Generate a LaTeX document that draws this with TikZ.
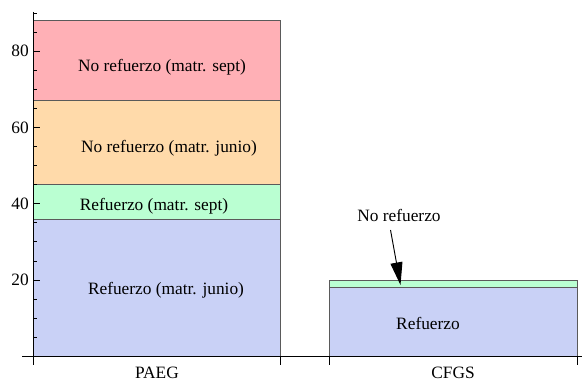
\documentclass[tikz,border=0pt]{standalone}
\usepackage{fontspec}
\setmainfont{Liberation Serif}
\usetikzlibrary{arrows.meta}
\definecolor{cpink}{RGB}{255,176,182}
\definecolor{corange}{RGB}{255,218,170}
\definecolor{cgreen}{RGB}{186,255,210}
\definecolor{cblue}{RGB}{201,209,246}
\definecolor{cedge}{RGB}{90,90,90}
\tikzset{
  seg/.style={draw=cedge, line width=0.7pt},
  axisline/.style={draw=black, line width=0.75pt},
  lbl/.style={font=\fontsize{13}{15}\selectfont, inner sep=0pt},
  ticklbl/.style={font=\fontsize{13}{15}\selectfont, inner sep=0pt, anchor=east},
  pointer/.style={draw=black, line width=0.7pt, -{Triangle[length=17pt,width=9pt]}}
}
\begin{document}
\begin{tikzpicture}[x=0.75pt,y=-0.75pt]
\useasboundingbox (0,0) rectangle (582,381);
% PAEG bar
\path[seg, fill=cblue]   (33,356.3) rectangle (280,219.0);
\path[seg, fill=cgreen]  (33,219.0) rectangle (280,184.6);
\path[seg, fill=corange] (33,184.6) rectangle (280,100.7);
\path[seg, fill=cpink]   (33,100.7) rectangle (280,20.6);
% CFGS bar
\path[seg, fill=cblue]   (329.5,356.3) rectangle (577,287.6);
\path[seg, fill=cgreen]  (329.5,287.6) rectangle (577,280.0);
% axes
\draw[axisline] (33,12) -- (33,356.3);
\draw[axisline] (22,356.3) -- (582,356.3);
% y ticks
\foreach \v in {5,10,15,25,30,35,45,50,55,65,70,75,85,90}
  \draw[black, line width=0.6pt] (33,{356.3-3.815*\v}) -- (37,{356.3-3.815*\v});
\foreach \v in {20,40,60,80}{
  \draw[black, line width=0.6pt] (33,{356.3-3.815*\v}) -- (40,{356.3-3.815*\v});
  \node[ticklbl] (t\v) at (29,{356.3-3.815*\v}) {\v};
}
% x ticks
\foreach \xx in {33,280,329.5,577}
  \draw[black, line width=0.75pt] (\xx,356.3) -- (\xx,365);
% category labels
\node[lbl] (paeg) at (157,373) {PAEG};
\node[lbl] (cfgs) at (453,373) {CFGS};
% segment labels
\node[lbl] (nrs) at (162,67) {No refuerzo (matr. sept)};
\node[lbl] (nrj) at (169,148) {No refuerzo (matr. junio)};
\node[lbl] (rs)  at (154,206) {Refuerzo (matr. sept)};
\node[lbl] (rj)  at (166,290) {Refuerzo (matr. junio)};
\node[lbl] (rc)  at (428,323) {Refuerzo};
\node[lbl] (nrc) at (399,215) {No refuerzo};
% pointer
\coordinate (astart) at (390.5,230);
\coordinate (atip) at (400.5,285);
\draw[pointer] (astart) -- (atip);
\end{tikzpicture}
\end{document}
